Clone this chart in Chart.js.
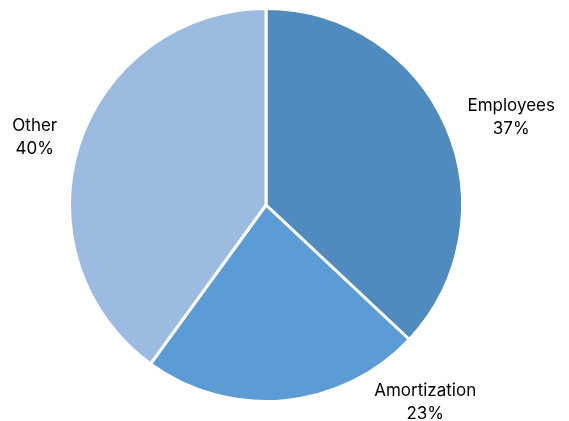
<!DOCTYPE html>
<html>
<head>
<meta charset="utf-8">
<script src="https://cdn.jsdelivr.net/npm/chart.js@4/dist/chart.umd.min.js"></script>
<style>
    html, body { margin: 0; padding: 0; background: #fff; }
    #wrap { width: 569px; height: 421px; }
</style>
</head>
<body>
<div id="wrap"><canvas id="camembert"></canvas></div>
<script>
var categories = ['Employees', 'Amortization', 'Other'];
var valeurs = [37, 23, 40];
var couleurs = ['rgb(80,139,191)', 'rgb(91,156,214)', 'rgb(155,187,224)'];

// étiquettes "nom + pourcentage" posées à l'extérieur de chaque part
var etiquettes = {
    id: 'etiquettes',
    afterDraw: function (chart) {
        var ctx = chart.ctx;
        var meta = chart.getDatasetMeta(0);
        var total = valeurs.reduce(function (a, b) { return a + b; }, 0);
        var lh = 23;
        var ecart = 23;
        ctx.save();
        ctx.font = '17px Inter, "Noto Sans", sans-serif';
        ctx.fillStyle = '#000';
        ctx.textAlign = 'center';
        ctx.textBaseline = 'middle';
        meta.data.forEach(function (arc, i) {
            var lignes = [categories[i], Math.round(valeurs[i] / total * 100) + '%'];
            var w = Math.max(ctx.measureText(lignes[0]).width, ctx.measureText(lignes[1]).width);
            var h = lignes.length * lh;
            var a = (arc.startAngle + arc.endAngle) / 2;
            var d = arc.outerRadius + ecart;
            var px = arc.x + Math.cos(a) * d;
            var py = arc.y + Math.sin(a) * d;
            var maxY = chart.height - 19;
            if (py > maxY) { // trop bas : on glisse le long du cercle vers la droite
                px = arc.x + Math.sqrt(Math.max(d * d - (maxY - 6 - arc.y) * (maxY - 6 - arc.y), 0));
                py = maxY;
            }
            var x = px + (px >= arc.x ? 1 : -1) * w / 2;
            lignes.forEach(function (t, j) {
                ctx.fillText(t, x, py - h / 2 + lh / 2 + j * lh);
            });
        });
        ctx.restore();
    }
};

var data = {
    labels: categories,
    datasets: [{
        data: valeurs,
        backgroundColor: couleurs,
        borderColor: '#fff',
        borderWidth: 3
    }]
};
var option = {
    responsive: true,
    maintainAspectRatio: false,
    animation: false,
    layout: {
        padding: { top: 7, bottom: 18, left: 68, right: 105 }
    },
    plugins: {
        legend: false,
        tooltip: { enabled: false }
    }
};
var graphique = new Chart(document.getElementById('camembert'), {
    type: 'pie', data: data, options: option, plugins: [etiquettes]
});
</script>
</body>
</html>
